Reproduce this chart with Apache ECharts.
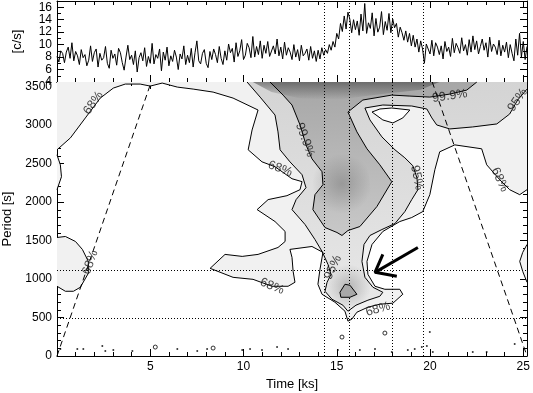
<!DOCTYPE html>
<html>
<head>
<meta charset="utf-8">
<script src="https://cdn.jsdelivr.net/npm/echarts@6/dist/echarts.min.js"></script>
<style>
  html, body { margin: 0; padding: 0; background: #fff; }
  #chart { width: 533px; height: 393px; }
</style>
</head>
<body>
<div id="chart"></div>
<script>
// axis ranges
var timeMax = 25.2
var periodMax = 3560
var rateMin = 4
var rateMax = 17

// light curve, one value every 0.1 ks
var lcStart = 0
var lcStep = 0.1
var lcRate = [
  8.1, 7.2, 9.0, 8.6, 7.1, 8.8, 9.6, 7.8, 10.3, 7.4,
  8.9, 8.2, 6.8, 9.2, 7.9, 8.4, 6.6, 7.5, 9.8, 7.3,
  8.7, 9.3, 6.4, 8.6, 7.5, 7.9, 9.7, 7.0, 6.2, 9.1,
  7.8, 8.5, 6.7, 9.4, 8.7, 7.1, 5.9, 8.0, 9.9, 7.6,
  8.3, 6.8, 9.0, 5.6, 7.9, 8.7, 7.4, 9.5, 6.5, 8.1,
  7.0, 10.2, 6.9, 8.4, 7.8, 9.3, 5.8, 8.8, 7.5, 9.6,
  6.6, 8.2, 7.3, 9.1, 8.0, 6.0, 8.5, 7.7, 9.8, 6.8,
  8.3, 7.1, 9.4, 6.4, 8.7, 10.6, 7.4, 6.9, 8.6, 9.2,
  7.0, 6.3, 8.9, 7.6, 9.3, 8.4, 7.1, 9.7, 7.8, 6.8,
  9.0, 7.5, 10.1, 8.7, 9.4, 7.2, 10.3, 8.1, 9.0, 10.8,
  7.6, 8.3, 10.2, 9.5, 7.9, 11.3, 8.0, 9.7, 8.4, 10.6,
  7.8, 9.9, 8.6, 10.5, 8.1, 7.9, 9.8, 8.5, 10.9, 8.2,
  9.6, 7.7, 10.4, 8.3, 9.5, 8.8, 7.6, 10.0, 8.0, 9.2,
  7.4, 9.9, 8.2, 8.6, 9.3, 7.5, 9.7, 7.8, 9.0, 7.3,
  9.1, 7.7, 9.5, 8.3, 9.2, 8.6, 10.0, 9.1, 10.5, 9.6,
  11.8, 10.9, 13.4, 12.1, 14.6, 12.5, 15.2, 14.1, 11.9, 14.0,
  12.4, 13.8, 11.5, 14.9, 12.2, 16.6, 11.8, 13.5, 12.6, 15.1,
  11.4, 14.2, 12.0, 12.8, 15.3, 11.6, 13.7, 12.3, 15.0, 11.9,
  14.1, 12.7, 13.4, 11.2, 12.8, 11.9, 10.7, 12.2, 10.4, 11.8,
  9.8, 11.5, 9.6, 10.9, 8.8, 10.6, 9.3, 7.0, 10.1, 9.9,
  8.5, 10.7, 8.2, 10.3, 9.6, 8.4, 9.8, 7.7, 10.5, 8.9,
  9.6, 8.1, 11.0, 8.7, 10.2, 9.5, 8.6, 11.1, 9.0, 10.0,
  8.3, 10.8, 8.8, 11.4, 9.2, 10.6, 8.5, 9.7, 10.9, 9.1,
  10.3, 8.0, 11.2, 8.9, 10.1, 9.6, 8.4, 10.7, 8.2, 9.9,
  8.8, 10.4, 7.9, 10.0, 8.6, 7.4, 10.9, 8.3, 11.8, 8.0,
  10.5, 7.6, 9.7
]

// reference lines
var markTimes = [14.35, 15.65, 18.0, 19.65]
var markPeriods = [1120, 490]

// cone of influence
var coiLeft = [[0, 0], [5.05, 3560]]
var coiRight = [[20.12, 3560], [25.2, 0]]

// contours [time ks, period s]
var c68Main = [
  [0, 2679], [0.72, 2834], [1.52, 3093], [2.32, 3351], [3.02, 3481], [3.66, 3533],
  [4.46, 3533], [5.0, 3507], [5.64, 3546], [6.45, 3494], [7.30, 3468], [8.37, 3429],
  [9.44, 3351], [10.78, 3196], [10.46, 2937], [10.25, 2679], [10.99, 2523], [11.69, 2459],
  [12.60, 2303], [13.14, 2265], [13.03, 2161], [12.33, 2083], [11.32, 2032], [10.73, 1902],
  [11.69, 1747], [12.23, 1618], [12.23, 1488], [11.85, 1410], [10.78, 1320], [9.93, 1294],
  [9.01, 1320], [8.21, 1139], [9.44, 1022], [10.51, 996], [11.53, 906], [12.39, 906],
  [12.76, 958], [12.66, 1100], [12.60, 1281], [12.49, 1385], [13.67, 1423], [14.26, 1346],
  [14.10, 1126], [13.99, 932], [14.21, 802], [14.90, 699], [15.44, 582], [15.60, 453],
  [15.81, 479], [16.08, 569], [16.67, 634], [17.31, 673], [18.01, 686], [18.54, 802],
  [18.38, 867], [17.58, 867], [17.05, 906], [16.67, 1061], [16.62, 1229], [16.89, 1449],
  [17.47, 1618], [18.38, 1747], [19.02, 1799], [19.61, 1876], [19.99, 2096], [20.26, 2420],
  [20.52, 2653], [21.33, 2743], [22.77, 2692], [23.04, 2484], [23.74, 2290], [24.27, 2161],
  [24.81, 2096], [25.2, 2161]
]
var c68Left = [
  [0, 1540], [0.45, 1553], [0.99, 1488], [1.36, 1385], [1.68, 1229], [1.68, 1074],
  [1.25, 893], [0.88, 841], [0.45, 841], [0, 906]
]
var c68LeftTop = [[0, 2614], [0.18, 2484], [0.24, 2329], [0, 2161]]
var c68Right = [[25.2, 1449], [24.97, 1346], [24.81, 1229], [24.97, 1100], [25.2, 958]]
var c95 = [
  [10.19, 3560], [10.89, 3364], [11.69, 3131], [11.85, 2912], [11.96, 2679], [12.49, 2523],
  [13.14, 2355], [13.35, 2187], [12.82, 2032], [12.60, 1902], [13.30, 1708], [13.83, 1514],
  [14.21, 1359], [14.53, 1190], [14.69, 1061], [14.48, 958], [14.37, 841], [14.74, 738],
  [15.33, 660], [15.60, 582], [16.03, 660], [16.67, 725], [17.31, 776], [17.47, 828],
  [16.94, 893], [16.51, 1022], [16.35, 1229], [16.46, 1449], [16.78, 1566], [17.42, 1643],
  [18.12, 1721], [18.65, 1876], [19.02, 2032], [19.35, 2161], [19.30, 2316], [19.08, 2472],
  [18.65, 2575], [18.12, 2679], [17.42, 2847], [16.78, 3067], [16.51, 3222], [17.47, 3261],
  [19.02, 3248], [19.83, 3209], [20.10, 3093], [20.36, 3002], [21.06, 2950], [22.29, 2976],
  [23.58, 3015], [24.27, 3144], [24.70, 3326], [25.2, 3468]
]
var c999 = [
  [11.42, 3560], [12.12, 3390], [12.60, 3261], [13.03, 3002], [13.35, 2743], [13.67, 2562],
  [14.21, 2394], [14.26, 2226], [13.83, 2096], [13.72, 1902], [14.37, 1669], [15.01, 1605],
  [15.28, 1566], [15.60, 1630], [16.24, 1682], [17.15, 1941], [17.95, 2265], [17.31, 2484],
  [16.62, 2692], [16.08, 2912], [15.60, 3170], [16.40, 3326], [17.95, 3390], [18.92, 3377],
  [19.99, 3364], [21.06, 3403], [21.97, 3455], [22.51, 3560]
]
var cEye = [[16.89, 3170], [17.31, 3209], [17.95, 3222], [18.92, 3196], [18.54, 3093], [18.01, 3028], [17.47, 3067]]
var cDiamond = [[15.17, 828], [15.44, 932], [15.71, 919], [16.08, 802], [15.71, 763], [15.22, 763]]

// darker power inside the significant areas (shading only)
var shadeTop = [[10.5, 3560], [11.5, 3430], [13.0, 3350], [15.0, 3330], [17.0, 3390], [19.5, 3460], [20.5, 3560]]
var shadeMid = [[13.83, 2679], [15.44, 2808], [16.67, 2484], [16.89, 1967], [15.97, 1669], [14.37, 1708], [13.67, 2096]]
var shadeLobe = [[14.53, 1190], [16.40, 1190], [17.05, 867], [16.24, 608], [14.90, 673], [14.21, 932]]

// tiny contours near the bottom
var specks = [
  [0.18, 91], [1.09, 91], [1.41, 91], [2.43, 129], [2.59, 65], [3.02, 78], [4.04, 65],
  [6.45, 91], [7.52, 65], [8.05, 91], [9.93, 78], [10.35, 91], [10.99, 78], [11.80, 116],
  [12.39, 91], [15.06, 78], [16.24, 78], [17.05, 91], [17.95, 52], [18.81, 78], [19.18, 91],
  [19.56, 116], [19.99, 311], [19.83, 129], [20.15, 52], [22.29, 52], [23.04, 52], [24.54, 155]
]
var loops = [[5.27, 116], [8.37, 103], [15.28, 246], [17.58, 298]]

// contour labels
var labelPos = [[1.95, 3287], [11.96, 2433], [13.30, 2808], [19.30, 2316], [21.06, 3377], [24.70, 3326],
  [23.74, 2290], [1.79, 1216], [11.53, 906], [14.80, 1152], [17.21, 608]]
var labelText = ['68%', '68%', '99.9%', '95%', '99.9%', '95%', '68%', '68%', '68%', '95%', '68%']
var labelAngle = [55, -20, -70, -78, 8, 55, -65, 70, -22, 65, 16]

// arrow
var arrowShaft = [[19.35, 1410], [17.05, 1087]]
var arrowHead = [[17.47, 1320], [17.05, 1087], [18.22, 1035]]

var FONT = '"Liberation Sans", Arial, sans-serif'
var chart = echarts.init(document.getElementById('chart'), null, { renderer: 'canvas' })

function fmtEvery(step, hideZero) {
  return function (v) {
    if (Math.abs(v / step - Math.round(v / step)) > 1e-6) return ''
    if (hideZero && v === 0) return ''
    return String(v)
  }
}

function xAx(grid, pos, labels, name) {
  return {
    type: 'value', gridIndex: grid, position: pos, min: 0, max: timeMax, interval: 5,
    axisLine: { show: true, onZero: false, lineStyle: { color: '#000', width: 1 } },
    axisTick: { show: true, inside: true, length: 7, lineStyle: { color: '#000' } },
    minorTick: { show: true, splitNumber: 5, length: 4, lineStyle: { color: '#000' } },
    splitLine: { show: false },
    axisLabel: { show: labels, margin: 5, color: '#000', fontSize: 12, fontFamily: FONT, formatter: fmtEvery(5, true) },
    name: name || '', nameLocation: 'middle', nameGap: 20,
    nameTextStyle: { color: '#000', fontSize: 13, fontFamily: FONT }
  }
}

function yAx(grid, pos, min, max, step, minor, labels, name, gap) {
  return {
    type: 'value', gridIndex: grid, position: pos, min: min, max: max, interval: step,
    axisLine: { show: true, onZero: false, lineStyle: { color: '#000', width: 1 } },
    axisTick: { show: true, inside: true, length: 7, lineStyle: { color: '#000' } },
    minorTick: { show: true, splitNumber: minor, length: 4, lineStyle: { color: '#000' } },
    splitLine: { show: false },
    axisLabel: { show: labels, margin: 5, color: '#000', fontSize: 12, fontFamily: FONT, formatter: fmtEvery(step, false) },
    name: name || '', nameLocation: 'middle', nameGap: gap || 0, nameRotate: 90,
    nameTextStyle: { color: '#000', fontSize: 13, fontFamily: FONT }
  }
}

function fillSeries(poly, fill, z) {
  return {
    type: 'custom', xAxisIndex: 2, yAxisIndex: 2, silent: true, clip: true, z: z,
    data: [[0, 0]],
    renderItem: function (params, api) {
      return {
        type: 'polygon',
        shape: { points: poly.map(function (p) { return api.coord(p) }) },
        style: { fill: fill }
      }
    }
  }
}

function lineSeries(pts, style, z) {
  return {
    type: 'line', xAxisIndex: 2, yAxisIndex: 2, data: pts, symbol: 'none', silent: true,
    lineStyle: Object.assign({ color: '#000', width: 1 }, style), z: z
  }
}

function closed(pts) { return pts.concat([pts[0]]) }

function vgrad(top, bottom) {
  return new echarts.graphic.LinearGradient(0, 0, 0, 1, [
    { offset: 0, color: top }, { offset: 1, color: bottom }
  ])
}

function radial(c, a) {
  return new echarts.graphic.RadialGradient(0.5, 0.5, 0.5, [
    { offset: 0, color: 'rgba(' + c + ',' + a + ')' },
    { offset: 1, color: 'rgba(' + c + ',0)' }
  ])
}

var lcData = lcRate.map(function (v, i) { return [lcStart + i * lcStep, v] })
var dotted = { color: '#000', width: 1, type: [1, 2] }

var option = {
  animation: false,
  backgroundColor: '#fff',
  grid: [
    { left: 57, right: 6, top: 1, height: 81, outerBoundsMode: 'none' },
    { left: 57, right: 6, top: 82, height: 274, outerBoundsMode: 'none' }
  ],
  xAxis: [
    xAx(0, 'bottom', false),
    xAx(0, 'top', false),
    xAx(1, 'bottom', true, 'Time [ks]'),
    xAx(1, 'top', false)
  ],
  yAxis: [
    yAx(0, 'left', rateMin, rateMax, 2, 2, true, '[c/s]', 33),
    yAx(0, 'right', rateMin, rateMax, 2, 2, false),
    yAx(1, 'left', 0, periodMax, 500, 5, true, 'Period [s]', 42),
    yAx(1, 'right', 0, periodMax, 500, 5, false)
  ],
  series: [
    // light curve
    {
      type: 'line', xAxisIndex: 0, yAxisIndex: 0, data: lcData, symbol: 'none', silent: true,
      lineStyle: { color: '#000', width: 1 }, z: 3,
      markLine: {
        silent: true, symbol: 'none', label: { show: false }, lineStyle: dotted,
        data: markTimes.map(function (t) { return { xAxis: t } })
      }
    },
    // shading by significance level
    fillSeries(c68Main.concat([[timeMax, periodMax], [0, periodMax]]), '#f1f1f1', 1),
    fillSeries(c68Left, '#f1f1f1', 1),
    fillSeries(c68LeftTop, '#f4f4f4', 1),
    fillSeries(c68Right, '#f4f4f4', 1),
    fillSeries(c95.concat([[timeMax, periodMax]]), vgrad('#d4d4d4', '#e8e8e8'), 2),
    fillSeries(c999, vgrad('#a6a6a6', '#c8c8c8'), 3),
    fillSeries(shadeTop, vgrad('rgba(60,60,60,0.55)', 'rgba(60,60,60,0)'), 4),
    fillSeries(shadeMid, radial('100,100,100', 0.4), 4),
    fillSeries(shadeLobe, radial('110,110,110', 0.4), 4),
    fillSeries(cEye, '#fff', 5),
    fillSeries(cDiamond, '#a8a8a8', 5),
    // contour lines
    lineSeries(c68Main, {}, 6),
    lineSeries(c68Left, {}, 6),
    lineSeries(c68LeftTop, {}, 6),
    lineSeries(c68Right, {}, 6),
    lineSeries(c95, {}, 6),
    lineSeries(c999, {}, 6),
    lineSeries(closed(cEye), {}, 6),
    lineSeries(closed(cDiamond), {}, 6),
    // cone of influence and reference lines
    Object.assign(lineSeries(coiLeft, { type: [6, 4] }, 7), {
      markLine: {
        silent: true, symbol: 'none', label: { show: false }, lineStyle: dotted,
        data: markTimes.map(function (t) { return { xAxis: t } })
          .concat(markPeriods.map(function (p) { return { yAxis: p } }))
      }
    }),
    lineSeries(coiRight, { type: [6, 4] }, 7),
    // small contours at the bottom
    {
      type: 'scatter', xAxisIndex: 2, yAxisIndex: 2, data: specks, symbol: 'circle', symbolSize: 2,
      itemStyle: { color: '#000' }, silent: true, z: 7
    },
    {
      type: 'scatter', xAxisIndex: 2, yAxisIndex: 2, data: loops, symbol: 'circle', symbolSize: 4,
      itemStyle: { color: 'rgba(0,0,0,0)', borderColor: '#000', borderWidth: 1 }, silent: true, z: 7
    },
    // contour labels
    {
      type: 'scatter', xAxisIndex: 2, yAxisIndex: 2, symbolSize: 1, silent: true, z: 8,
      itemStyle: { color: 'rgba(0,0,0,0)' },
      data: labelPos.map(function (p, i) {
        return { value: p, label: { rotate: labelAngle[i], formatter: labelText[i] } }
      }),
      label: { show: true, position: 'inside', color: '#111', fontSize: 12.5, fontFamily: FONT }
    },
    // arrow
    lineSeries(arrowShaft, { width: 3 }, 9),
    lineSeries(arrowHead, { width: 3 }, 9)
  ]
}

chart.setOption(option)
</script>
</body>
</html>
